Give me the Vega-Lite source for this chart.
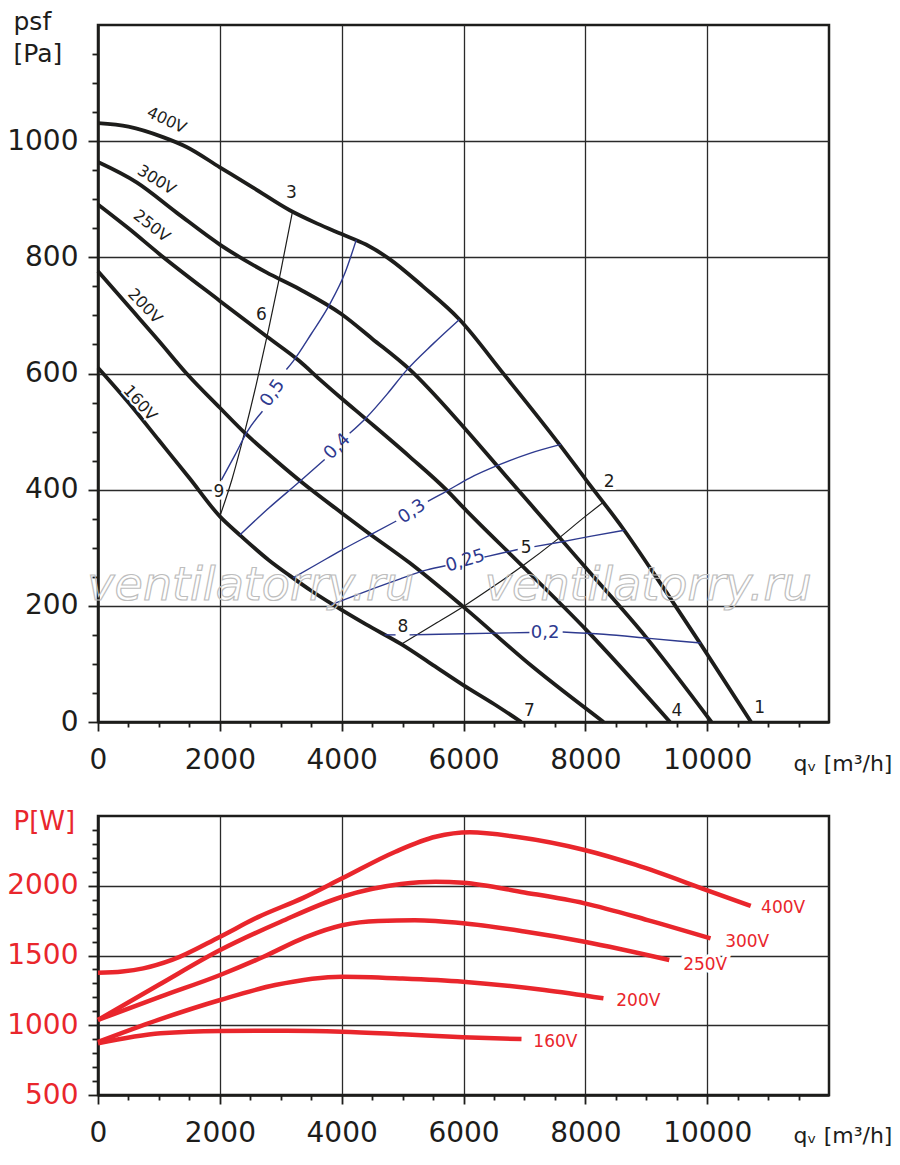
{
  "$schema": "https://vega.github.io/schema/vega-lite/v6.json",
  "description": "Fan curves: static pressure and input power against air flow for five supply voltages.",
  "background": "white",
  "padding": {"left": 5, "top": 7, "right": 5, "bottom": 5},
  "spacing": 94,
  "bounds": "flush",
  "config": {
    "view": {"stroke": "#1d1d1b", "strokeWidth": 2.5},
    "font": "DejaVu Sans",
    "axis": {
      "labelFont": "DejaVu Sans",
      "titleFont": "DejaVu Sans",
      "labelFontSize": 28,
      "labelColor": "#1d1d1b",
      "titleColor": "#1d1d1b",
      "titleFontWeight": "normal",
      "domainColor": "#1d1d1b",
      "domainWidth": 2.5,
      "tickColor": "#1d1d1b",
      "tickWidth": 1.8,
      "gridColor": "#2a2a2a",
      "gridWidth": 1.3,
      "labelFlush": false,
      "labelOverlap": false,
      "labelBound": false
    },
    "text": {"font": "DejaVu Sans"}
  },
  "datasets": {
    "curves": [
      {"v": "400V", "q": 0, "p": 1031}, {"v": "400V", "q": 500, "p": 1025}, {"v": "400V", "q": 1066, "p": 1007},
      {"v": "400V", "q": 1454, "p": 990}, {"v": "400V", "q": 2000, "p": 955}, {"v": "400V", "q": 2546, "p": 920},
      {"v": "400V", "q": 3148, "p": 881}, {"v": "400V", "q": 3600, "p": 858}, {"v": "400V", "q": 4000, "p": 840},
      {"v": "400V", "q": 4400, "p": 822}, {"v": "400V", "q": 4787, "p": 797}, {"v": "400V", "q": 5333, "p": 750},
      {"v": "400V", "q": 5934, "p": 693}, {"v": "400V", "q": 6645, "p": 601}, {"v": "400V", "q": 7574, "p": 478},
      {"v": "400V", "q": 8011, "p": 417}, {"v": "400V", "q": 8612, "p": 334}, {"v": "400V", "q": 9250, "p": 236},
      {"v": "400V", "q": 9869, "p": 138}, {"v": "400V", "q": 10720, "p": 0},
      {"v": "300V", "q": 0, "p": 964}, {"v": "300V", "q": 634, "p": 929}, {"v": "300V", "q": 1290, "p": 877},
      {"v": "300V", "q": 2000, "p": 822}, {"v": "300V", "q": 2765, "p": 774}, {"v": "300V", "q": 3311, "p": 745},
      {"v": "300V", "q": 4000, "p": 702}, {"v": "300V", "q": 4500, "p": 660}, {"v": "300V", "q": 5115, "p": 607},
      {"v": "300V", "q": 6000, "p": 508}, {"v": "300V", "q": 6700, "p": 423}, {"v": "300V", "q": 7465, "p": 331},
      {"v": "300V", "q": 8011, "p": 265}, {"v": "300V", "q": 8989, "p": 147}, {"v": "300V", "q": 10070, "p": 0},
      {"v": "250V", "q": 0, "p": 891}, {"v": "250V", "q": 500, "p": 850}, {"v": "250V", "q": 1016, "p": 805},
      {"v": "250V", "q": 2000, "p": 725}, {"v": "250V", "q": 2765, "p": 664}, {"v": "250V", "q": 3311, "p": 621},
      {"v": "250V", "q": 3639, "p": 590}, {"v": "250V", "q": 4000, "p": 557}, {"v": "250V", "q": 4405, "p": 521},
      {"v": "250V", "q": 5115, "p": 457}, {"v": "250V", "q": 5716, "p": 400}, {"v": "250V", "q": 6000, "p": 369},
      {"v": "250V", "q": 6973, "p": 268}, {"v": "250V", "q": 8011, "p": 159}, {"v": "250V", "q": 9390, "p": 0},
      {"v": "200V", "q": 0, "p": 776}, {"v": "200V", "q": 500, "p": 716}, {"v": "200V", "q": 1000, "p": 656},
      {"v": "200V", "q": 1454, "p": 600}, {"v": "200V", "q": 2000, "p": 541}, {"v": "200V", "q": 2437, "p": 495},
      {"v": "200V", "q": 2900, "p": 452}, {"v": "200V", "q": 3366, "p": 411}, {"v": "200V", "q": 4000, "p": 360},
      {"v": "200V", "q": 4405, "p": 328}, {"v": "200V", "q": 5115, "p": 274}, {"v": "200V", "q": 5989, "p": 199},
      {"v": "200V", "q": 7136, "p": 95}, {"v": "200V", "q": 8300, "p": 0},
      {"v": "160V", "q": 0, "p": 610}, {"v": "160V", "q": 500, "p": 550}, {"v": "160V", "q": 1000, "p": 485},
      {"v": "160V", "q": 1500, "p": 420}, {"v": "160V", "q": 2000, "p": 354}, {"v": "160V", "q": 2328, "p": 322},
      {"v": "160V", "q": 2800, "p": 279}, {"v": "160V", "q": 3148, "p": 252}, {"v": "160V", "q": 3500, "p": 226},
      {"v": "160V", "q": 3858, "p": 202}, {"v": "160V", "q": 4400, "p": 168}, {"v": "160V", "q": 4978, "p": 134},
      {"v": "160V", "q": 5500, "p": 98}, {"v": "160V", "q": 5989, "p": 64}, {"v": "160V", "q": 6500, "p": 31},
      {"v": "160V", "q": 6950, "p": 0}
    ],
    "sys": [
      {"s": "3-6-9", "q": 2000, "p": 354}, {"s": "3-6-9", "q": 2200, "p": 418}, {"s": "3-6-9", "q": 2400, "p": 496},
      {"s": "3-6-9", "q": 2600, "p": 582}, {"s": "3-6-9", "q": 2800, "p": 676}, {"s": "3-6-9", "q": 3000, "p": 776},
      {"s": "3-6-9", "q": 3191, "p": 878},
      {"s": "2-5-8", "q": 4978, "p": 134}, {"s": "2-5-8", "q": 5500, "p": 167}, {"s": "2-5-8", "q": 6000, "p": 199},
      {"s": "2-5-8", "q": 6500, "p": 234}, {"s": "2-5-8", "q": 7000, "p": 271}, {"s": "2-5-8", "q": 7500, "p": 311},
      {"s": "2-5-8", "q": 8000, "p": 354}, {"s": "2-5-8", "q": 8290, "p": 378}
    ],
    "eff": [
      {"seg": "0,5a", "q": 2027, "p": 417}, {"seg": "0,5a", "q": 2250, "p": 460}, {"seg": "0,5a", "q": 2450, "p": 500},
      {"seg": "0,5a", "q": 2700, "p": 535},
      {"seg": "0,5b", "q": 3093, "p": 607}, {"seg": "0,5b", "q": 3202, "p": 621}, {"seg": "0,5b", "q": 3500, "p": 668},
      {"seg": "0,5b", "q": 3803, "p": 719}, {"seg": "0,5b", "q": 4050, "p": 772}, {"seg": "0,5b", "q": 4240, "p": 830},
      {"seg": "0,4a", "q": 2328, "p": 322}, {"seg": "0,4a", "q": 2800, "p": 368}, {"seg": "0,4a", "q": 3311, "p": 414},
      {"seg": "0,4a", "q": 3721, "p": 452},
      {"seg": "0,4b", "q": 4131, "p": 497}, {"seg": "0,4b", "q": 4405, "p": 524}, {"seg": "0,4b", "q": 4750, "p": 565},
      {"seg": "0,4b", "q": 5060, "p": 605}, {"seg": "0,4b", "q": 5500, "p": 651}, {"seg": "0,4b", "q": 5934, "p": 693},
      {"seg": "0,3a", "q": 3202, "p": 248}, {"seg": "0,3a", "q": 3600, "p": 272}, {"seg": "0,3a", "q": 4000, "p": 296},
      {"seg": "0,3a", "q": 4500, "p": 324}, {"seg": "0,3a", "q": 4896, "p": 346},
      {"seg": "0,3b", "q": 5415, "p": 380}, {"seg": "0,3b", "q": 5716, "p": 397}, {"seg": "0,3b", "q": 6100, "p": 420},
      {"seg": "0,3b", "q": 6590, "p": 443}, {"seg": "0,3b", "q": 7100, "p": 463}, {"seg": "0,3b", "q": 7601, "p": 478},
      {"seg": "0,25a", "q": 3830, "p": 202}, {"seg": "0,25a", "q": 4400, "p": 225}, {"seg": "0,25a", "q": 4951, "p": 246},
      {"seg": "0,25a", "q": 5400, "p": 262}, {"seg": "0,25a", "q": 5705, "p": 269},
      {"seg": "0,25b", "q": 6344, "p": 284}, {"seg": "0,25b", "q": 6600, "p": 290}, {"seg": "0,25b", "q": 6890, "p": 297},
      {"seg": "0,25c", "q": 7164, "p": 302}, {"seg": "0,25c", "q": 7600, "p": 310}, {"seg": "0,25c", "q": 8100, "p": 320},
      {"seg": "0,25c", "q": 8639, "p": 330},
      {"seg": "0,2a", "q": 4705, "p": 150}, {"seg": "0,2a", "q": 4885, "p": 150},
      {"seg": "0,2b", "q": 5115, "p": 150}, {"seg": "0,2b", "q": 6000, "p": 152}, {"seg": "0,2b", "q": 7082, "p": 154},
      {"seg": "0,2c", "q": 7628, "p": 155}, {"seg": "0,2c", "q": 8300, "p": 151}, {"seg": "0,2c", "q": 9049, "p": 144},
      {"seg": "0,2c", "q": 9896, "p": 136}
    ],
    "efflabels": [
      {"t": "0,5", "q": 2870, "p": 566},
      {"t": "0,4", "q": 3930, "p": 474},
      {"t": "0,3", "q": 5157, "p": 362},
      {"t": "0,25", "q": 6030, "p": 277},
      {"t": "0,2", "q": 7340, "p": 153}
    ],
    "vlabels": [
      {"t": "400V", "q": 1126, "p": 1036},
      {"t": "300V", "q": 962, "p": 933},
      {"t": "250V", "q": 880, "p": 854},
      {"t": "200V", "q": 770, "p": 716},
      {"t": "160V", "q": 689, "p": 549}
    ],
    "nums": [
      {"t": "1", "q": 10863, "p": 24}, {"t": "4", "q": 9502, "p": 19}, {"t": "7", "q": 7082, "p": 19},
      {"t": "2", "q": 8393, "p": 414}, {"t": "5", "q": 7027, "p": 299}, {"t": "8", "q": 5005, "p": 163},
      {"t": "3", "q": 3175, "p": 910}, {"t": "6", "q": 2683, "p": 701}, {"t": "9", "q": 1984, "p": 396}
    ],
    "marks": [
      {"t": "ventilatorry.ru", "q": 2508, "p": 210},
      {"t": "ventilatorry.ru", "q": 9033, "p": 210}
    ],
    "power": [
      {"v": "400V", "q": 0, "w": 1377}, {"v": "400V", "q": 400, "w": 1386}, {"v": "400V", "q": 744, "w": 1408},
      {"v": "400V", "q": 1215, "w": 1468}, {"v": "400V", "q": 2005, "w": 1635}, {"v": "400V", "q": 2626, "w": 1775},
      {"v": "400V", "q": 3377, "w": 1915}, {"v": "400V", "q": 4008, "w": 2053}, {"v": "400V", "q": 4883, "w": 2244},
      {"v": "400V", "q": 5541, "w": 2351}, {"v": "400V", "q": 6106, "w": 2383}, {"v": "400V", "q": 6858, "w": 2351},
      {"v": "400V", "q": 7986, "w": 2256}, {"v": "400V", "q": 8832, "w": 2149}, {"v": "400V", "q": 9990, "w": 1969},
      {"v": "400V", "q": 10715, "w": 1855},
      {"v": "300V", "q": 0, "w": 1038}, {"v": "300V", "q": 1000, "w": 1290}, {"v": "300V", "q": 2005, "w": 1539},
      {"v": "300V", "q": 3000, "w": 1742}, {"v": "300V", "q": 4008, "w": 1921}, {"v": "300V", "q": 4975, "w": 2012},
      {"v": "300V", "q": 5541, "w": 2029}, {"v": "300V", "q": 5993, "w": 2022}, {"v": "300V", "q": 7000, "w": 1952},
      {"v": "300V", "q": 7986, "w": 1874}, {"v": "300V", "q": 9021, "w": 1754}, {"v": "300V", "q": 10055, "w": 1623},
      {"v": "250V", "q": 0, "w": 1038}, {"v": "250V", "q": 1027, "w": 1205}, {"v": "250V", "q": 2005, "w": 1360},
      {"v": "250V", "q": 2717, "w": 1491}, {"v": "250V", "q": 3400, "w": 1630}, {"v": "250V", "q": 4008, "w": 1717},
      {"v": "250V", "q": 4600, "w": 1748}, {"v": "250V", "q": 5200, "w": 1752}, {"v": "250V", "q": 5993, "w": 1731},
      {"v": "250V", "q": 7000, "w": 1672}, {"v": "250V", "q": 7986, "w": 1599}, {"v": "250V", "q": 9378, "w": 1468},
      {"v": "200V", "q": 0, "w": 880}, {"v": "200V", "q": 1000, "w": 1040}, {"v": "200V", "q": 2005, "w": 1181},
      {"v": "200V", "q": 2908, "w": 1288}, {"v": "200V", "q": 4008, "w": 1348}, {"v": "200V", "q": 5000, "w": 1335},
      {"v": "200V", "q": 5993, "w": 1312}, {"v": "200V", "q": 7328, "w": 1253}, {"v": "200V", "q": 8297, "w": 1193},
      {"v": "160V", "q": 0, "w": 871}, {"v": "160V", "q": 1027, "w": 942}, {"v": "160V", "q": 2005, "w": 959},
      {"v": "160V", "q": 3097, "w": 961}, {"v": "160V", "q": 4008, "w": 954}, {"v": "160V", "q": 5000, "w": 935},
      {"v": "160V", "q": 5993, "w": 914}, {"v": "160V", "q": 6952, "w": 901}
    ],
    "plabels": [
      {"t": "400V", "q": 10885, "w": 1837},
      {"t": "300V", "q": 10295, "w": 1600},
      {"t": "250V", "q": 9606, "w": 1432},
      {"t": "200V", "q": 8508, "w": 1174},
      {"t": "160V", "q": 7147, "w": 882}
    ]
  },
  "vconcat": [
    {
      "width": 731,
      "height": 697,
      "resolve": {"scale": {"angle": "independent"}},
      "encoding": {
        "x": {
          "field": "q",
          "type": "quantitative",
          "scale": {"domain": [0, 12000], "nice": false, "zero": false},
          "axis": {
            "values": [0, 500, 1000, 1500, 2000, 2500, 3000, 3500, 4000, 4500, 5000, 5500, 6000, 6500, 7000, 7500, 8000, 8500, 9000, 9500, 10000, 10500, 11000, 11500],
            "format": "d",
            "labelExpr": "datum.value % 2000 === 0 && datum.value <= 10000 ? datum.label : ''",
            "grid": true,
            "gridOpacity": {"condition": {"test": "datum.value % 2000 === 0", "value": 1}, "value": 0},
            "tickSize": {"condition": {"test": "datum.value % 2000 === 0", "value": 9}, "value": 5},
            "labelPadding": 15,
            "labelBaseline": "top",
            "title": "qᵥ [m³/h]",
            "titleFontSize": 22,
            "titleAlign": "left",
            "titleBaseline": "alphabetic",
            "titleX": 695,
            "titleY": 48
          }
        },
        "y": {
          "field": "p",
          "type": "quantitative",
          "scale": {"domain": [0, 1200], "nice": false},
          "axis": {
            "values": [0, 50, 100, 150, 200, 250, 300, 350, 400, 450, 500, 550, 600, 650, 700, 750, 800, 850, 900, 950, 1000, 1050, 1100, 1150],
            "format": "d",
            "labelExpr": "datum.value % 200 === 0 && datum.value <= 1000 ? datum.label : ''",
            "grid": true,
            "gridOpacity": {"condition": {"test": "datum.value % 200 === 0", "value": 1}, "value": 0},
            "tickSize": {"condition": {"test": "datum.value % 200 === 0", "value": 10}, "value": 6},
            "labelPadding": 10,
            "title": ["psf", "[Pa]"],
            "titleFontSize": 25,
            "titleLineHeight": 32,
            "titleAngle": 0,
            "titleAlign": "left",
            "titleBaseline": "alphabetic",
            "titleX": -85,
            "titleY": 4
          }
        }
      },
      "layer": [
        {
          "data": {"name": "curves"},
          "mark": {"type": "line", "color": "#1d1d1b", "strokeWidth": 3.8, "interpolate": "monotone"},
          "encoding": {"detail": {"field": "v", "type": "nominal"}}
        },
        {
          "data": {"name": "sys"},
          "mark": {"type": "line", "color": "#1d1d1b", "strokeWidth": 1.2, "interpolate": "monotone"},
          "encoding": {"detail": {"field": "s", "type": "nominal"}}
        },
        {
          "data": {"name": "eff"},
          "mark": {"type": "line", "color": "#2e3a8f", "strokeWidth": 1.4, "interpolate": "monotone"},
          "encoding": {"detail": {"field": "seg", "type": "nominal"}}
        },
        {
          "data": {"name": "efflabels"},
          "mark": {"type": "text", "color": "#2e3a8f", "fontSize": 18, "align": "center", "baseline": "middle"},
          "encoding": {
            "text": {"field": "t"},
            "angle": {
              "field": "t",
              "type": "nominal",
              "scale": {"type": "ordinal", "domain": ["0,5", "0,4", "0,3", "0,25", "0,2"], "range": [305, 315, 326, 343, 0]},
              "legend": null
            }
          }
        },
        {
          "data": {"name": "vlabels"},
          "mark": {"type": "text", "fill": "white", "stroke": "white", "strokeWidth": 4, "fontSize": 16, "align": "center", "baseline": "middle"},
          "encoding": {
            "text": {"field": "t"},
            "angle": {
              "field": "t",
              "type": "nominal",
              "scale": {"type": "ordinal", "domain": ["400V", "300V", "250V", "200V", "160V"], "range": [25, 32, 38, 46, 48]},
              "legend": null
            }
          }
        },
        {
          "data": {"name": "vlabels"},
          "mark": {"type": "text", "color": "#1d1d1b", "fontSize": 16, "align": "center", "baseline": "middle"},
          "encoding": {
            "text": {"field": "t"},
            "angle": {
              "field": "t",
              "type": "nominal",
              "scale": {"type": "ordinal", "domain": ["400V", "300V", "250V", "200V", "160V"], "range": [25, 32, 38, 46, 48]},
              "legend": null
            }
          }
        },
        {
          "data": {"name": "nums"},
          "mark": {"type": "text", "fill": "white", "stroke": "white", "strokeWidth": 6, "fontSize": 17, "align": "center", "baseline": "middle"},
          "encoding": {"text": {"field": "t"}}
        },
        {
          "data": {"name": "nums"},
          "mark": {"type": "text", "color": "#1d1d1b", "fontSize": 17, "align": "center", "baseline": "middle"},
          "encoding": {"text": {"field": "t"}}
        },
        {
          "data": {"name": "marks"},
          "mark": {"type": "text", "fontSize": 46, "fontStyle": "italic", "align": "center", "baseline": "alphabetic", "fill": "white", "fillOpacity": 0, "stroke": "#bdbdbd", "strokeWidth": 1.2},
          "encoding": {"text": {"field": "t"}}
        }
      ]
    },
    {
      "width": 731,
      "height": 279,
      "encoding": {
        "x": {
          "field": "q",
          "type": "quantitative",
          "scale": {"domain": [0, 12000], "nice": false, "zero": false},
          "axis": {
            "values": [0, 500, 1000, 1500, 2000, 2500, 3000, 3500, 4000, 4500, 5000, 5500, 6000, 6500, 7000, 7500, 8000, 8500, 9000, 9500, 10000, 10500, 11000, 11500],
            "format": "d",
            "labelExpr": "datum.value % 2000 === 0 && datum.value <= 10000 ? datum.label : ''",
            "grid": true,
            "gridOpacity": {"condition": {"test": "datum.value % 2000 === 0", "value": 1}, "value": 0},
            "tickSize": {"condition": {"test": "datum.value % 2000 === 0", "value": 9}, "value": 5},
            "labelPadding": 15,
            "labelBaseline": "top",
            "title": "qᵥ [m³/h]",
            "titleFontSize": 22,
            "titleAlign": "left",
            "titleBaseline": "alphabetic",
            "titleX": 695,
            "titleY": 47
          }
        },
        "y": {
          "field": "w",
          "type": "quantitative",
          "scale": {"domain": [500, 2500], "nice": false, "zero": false},
          "axis": {
            "values": [500, 600, 700, 800, 900, 1000, 1100, 1200, 1300, 1400, 1500, 1600, 1700, 1800, 1900, 2000, 2100, 2200, 2300, 2400],
            "format": "d",
            "labelExpr": "datum.value % 500 === 0 && datum.value <= 2000 ? datum.label : ''",
            "labelColor": "#e9262c",
            "grid": true,
            "gridOpacity": {"condition": {"test": "datum.value % 500 === 0", "value": 1}, "value": 0},
            "tickSize": {"condition": {"test": "datum.value % 500 === 0", "value": 10}, "value": 6},
            "labelPadding": 10,
            "title": "P[W]",
            "titleColor": "#e9262c",
            "titleFontSize": 26,
            "titleAngle": 0,
            "titleAlign": "left",
            "titleBaseline": "alphabetic",
            "titleX": -85,
            "titleY": 13
          }
        }
      },
      "layer": [
        {
          "data": {"name": "power"},
          "mark": {"type": "line", "color": "#e9262c", "strokeWidth": 4.5, "interpolate": "monotone"},
          "encoding": {"detail": {"field": "v", "type": "nominal"}}
        },
        {
          "data": {"name": "plabels"},
          "mark": {"type": "text", "fill": "white", "stroke": "white", "strokeWidth": 6, "fontSize": 17, "align": "left", "baseline": "middle"},
          "encoding": {"text": {"field": "t"}}
        },
        {
          "data": {"name": "plabels"},
          "mark": {"type": "text", "color": "#e9262c", "fontSize": 17, "align": "left", "baseline": "middle"},
          "encoding": {"text": {"field": "t"}}
        }
      ]
    }
  ]
}
